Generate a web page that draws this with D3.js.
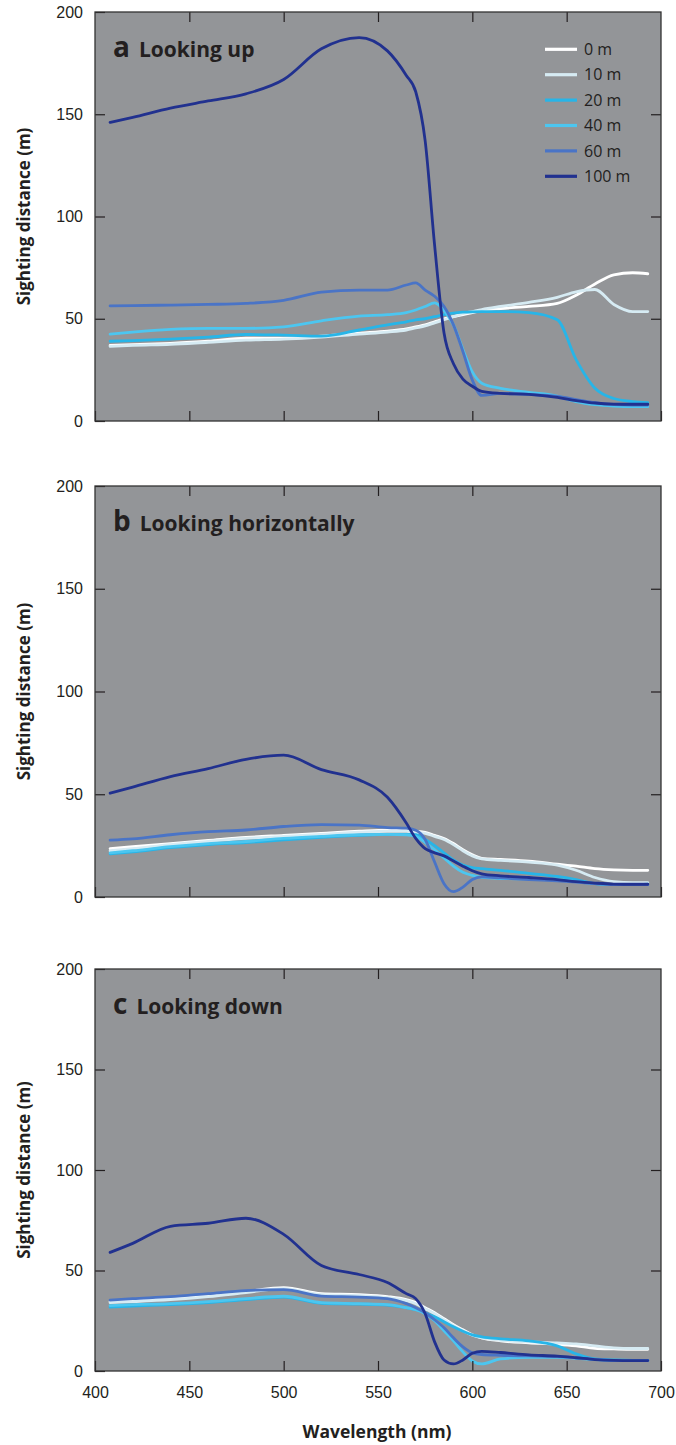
<!DOCTYPE html>
<html>
<head>
<meta charset="utf-8">
<script src="https://cdn.jsdelivr.net/npm/d3@7"></script>
<style>
  html, body { margin: 0; padding: 0; background: #fff; }
  svg { display: block; font-family: 'Open Sans', sans-serif; }
  .axis text { font-size: 16px; fill: #231f20; }
  .axis line { stroke: #231f20; stroke-width: 1.2; }
  .axis path { display: none; }
  .series { fill: none; stroke-width: 2.8; stroke-linejoin: round; stroke-linecap: round; }
</style>
</head>
<body>
<svg width="676" height="1445"></svg>
<script>
'use strict';

/* Wavelengths (nm) at which the curves were read. */
var wavelengths = [408, 420, 440, 460, 480, 500, 520, 540, 555, 565, 570, 575, 580, 585, 590, 595, 600, 605, 615, 630, 645, 655, 665, 675, 685, 693];

/* Depths, in legend order. */
var depths = ['0 m', '10 m', '20 m', '40 m', '60 m', '100 m'];
var colors = ['#ffffff', '#d6ebf3', '#27b5e8', '#4cc6f0', '#4a74c6', '#21318f'];

/* a: looking up. */
var up0 = [37, 37.3, 38, 39, 40.5, 40.5, 41.5, 43, 44, 45, 46, 47, 48.5, 50, 51, 52, 53, 54, 55, 56, 57.5, 61.5, 67, 71.5, 72.5, 72];
var up10 = [36.5, 37, 37.5, 38.5, 39.5, 40, 41, 42.5, 43.5, 44.5, 45.5, 46.5, 48, 49.5, 51, 52.5, 53.5, 54.5, 56, 58, 60.5, 63.2, 64.3, 57, 53.5, 53.5];
var up20 = [39, 39.3, 40, 41, 42.3, 42, 41.5, 44.5, 47, 48.5, 49.5, 50, 51, 52, 52.8, 53.2, 53.4, 53.5, 53.5, 53, 49.5, 30, 16, 11, 9.5, 9];
var up40 = [42.5, 43.5, 44.8, 45.3, 45.3, 46, 49, 51.3, 52, 53, 54.3, 56, 57.8, 54, 47, 35, 24, 18.5, 16, 14, 12.2, 9.5, 8, 7.3, 7, 7];
var up60 = [56.3, 56.4, 56.7, 57, 57.5, 59, 63, 64, 64, 66.5, 67.5, 64, 61, 56, 47, 34, 20, 12.5, 13.5, 13, 12, 10.5, 9, 8, 7.8, 7.8];
var up100 = [146, 148.5, 153, 156.5, 160, 167, 182, 187.5, 181, 169, 161, 137, 86, 43, 28, 20.5, 17, 14.5, 13.5, 13, 11.5, 10, 8.8, 8.3, 8.2, 8.2];

/* b: looking horizontally. */
var horizontal0 = [23.5, 24.5, 26, 27.5, 29, 30, 31, 32, 32.5, 32.3, 32, 31.5, 30, 28.5, 26, 23, 20.5, 18.8, 18.3, 17.5, 16, 15, 13.8, 13.2, 13, 13];
var horizontal10 = [22.5, 23.5, 25.5, 27, 28.5, 29.5, 30.5, 31.5, 32, 32, 31.5, 31, 29.5, 28, 25.5, 22.5, 20, 18.5, 17.8, 17, 15.5, 13, 9.5, 7.5, 7, 7];
var horizontal20 = [21, 22, 24, 25.5, 26.5, 27.8, 29, 30, 30.5, 30.5, 30.3, 28, 25, 21.5, 18, 15.5, 14.3, 13.8, 13, 11.5, 10, 8.5, 6.5, 6, 6, 6.3];
var horizontal40 = [21.5, 22.5, 24.5, 26, 27, 28.5, 29.5, 30.3, 30.5, 30.3, 29.5, 26.5, 23, 19, 15, 12, 10.5, 9.5, 9, 8.8, 8.5, 7.5, 6.5, 6, 6, 6];
var horizontal60 = [27.7, 28.3, 30.3, 31.8, 32.6, 34.3, 35.2, 35, 33.8, 33.5, 32.5, 28, 17, 6.5, 2.6, 4.8, 8.5, 9.8, 9.3, 8.5, 7.8, 7.2, 6.5, 6, 6, 6];
var horizontal100 = [50.5, 53.5, 58.6, 62.5, 67, 69, 62, 57, 48.5, 36, 28.5, 23.5, 21.5, 20, 17.5, 15, 12.8, 11.3, 10.3, 9.5, 8.5, 7.5, 6.8, 6.3, 6.2, 6.2];

/* c: looking down. */
var down0 = [34.5, 35, 36, 37.5, 39.5, 41.5, 38.5, 38, 37, 35.5, 34, 31.5, 29, 26, 23, 20.5, 18, 16.5, 15, 14, 13.3, 12.5, 11.3, 11, 10.8, 10.8];
var down10 = [34, 34.5, 35.5, 37, 39, 41, 38, 37.5, 36.5, 35, 33.5, 31, 28.5, 25.5, 22.5, 20, 17.8, 16.5, 15.3, 14.5, 14, 13.5, 12.5, 11.5, 11.2, 11.2];
var down20 = [31.8, 32.3, 33, 34, 35.5, 36.8, 33.7, 33.3, 32.8, 31.5, 30.5, 29, 27, 24.5, 22, 19.8, 18, 17, 16, 15, 12.5, 8.5, 6, 5.5, 5.3, 5.3];
var down40 = [32.5, 33, 33.5, 34.5, 36, 37.2, 34, 33.5, 33, 31.5, 30.5, 28.5, 25, 20, 15, 9.5, 5, 3.5, 6, 6.8, 6.8, 6.3, 5.7, 5.3, 5.2, 5.2];
var down60 = [35.3, 36, 37, 38.5, 40, 40.5, 37.3, 36.8, 36, 33.5, 31.5, 29, 25.5, 21.5, 16.5, 12, 9, 8.2, 7.8, 7.5, 7.2, 6.5, 5.8, 5.3, 5.2, 5.2];
var down100 = [59, 63.5, 72, 73.5, 76, 68, 52.5, 48, 44, 38.5, 36, 28.5, 14.5, 5.5, 3.5, 5.5, 8.8, 9.8, 9.2, 8, 7.4, 6.6, 5.7, 5.3, 5.2, 5.2];

/* Axis ticks. */
var xTicks = [400, 450, 500, 550, 600, 650, 700];
var yTicks = [0, 50, 100, 150, 200];

/* Panels. */
var panels = [
  {letter: 'a', title: 'Looking up', series: [up0, up10, up20, up40, up60, up100], top: 12, height: 409},
  {letter: 'b', title: 'Looking horizontally', series: [horizontal0, horizontal10, horizontal20, horizontal40, horizontal60, horizontal100], top: 486, height: 411},
  {letter: 'c', title: 'Looking down', series: [down0, down10, down20, down40, down60, down100], top: 969, height: 402}
];

var svg = d3.select('svg');
var left = 95;
var right = 661;

var x = d3.scaleLinear().domain([400, 700]).range([0, right - left]);

panels.forEach(drawPanel);

/* Shared x axis title. */
svg.append('text')
  .attr('x', 377)
  .attr('y', 1438)
  .attr('text-anchor', 'middle')
  .style('font-size', '17.5px')
  .style('font-weight', 700)
  .style('fill', '#231f20')
  .text('Wavelength (nm)');

function drawPanel(panel, index) {
  var width = right - left;
  var height = panel.height;
  var last = index === panels.length - 1;

  var y = d3.scaleLinear().domain([0, 200]).range([height, 0]);

  var group = svg.append('g')
    .attr('transform', 'translate(' + left + ',' + panel.top + ')');

  /* Grey plotting area. */
  group.append('rect')
    .attr('width', width)
    .attr('height', height)
    .attr('fill', '#939598');

  /* Curves, deepest on top. */
  var line = d3.line()
    .x(function (d, i) { return x(wavelengths[i]); })
    .y(function (d) { return y(d); })
    .curve(d3.curveMonotoneX);

  group.selectAll('.series')
    .data(panel.series)
    .enter()
    .append('path')
    .attr('class', 'series')
    .attr('stroke', function (d, i) { return colors[i]; })
    .attr('d', line);

  /* Axes with inward ticks. */
  group.append('g')
    .attr('class', 'axis')
    .call(d3.axisLeft(y).tickValues(yTicks).tickSizeInner(-10).tickSizeOuter(0).tickPadding(12));

  group.append('g')
    .attr('class', 'axis')
    .attr('transform', 'translate(' + width + ',0)')
    .call(d3.axisRight(y).tickValues([50, 100, 150]).tickSizeInner(-10).tickSizeOuter(0).tickFormat(''));

  group.append('g')
    .attr('class', 'axis')
    .call(d3.axisTop(x).tickValues([450, 500, 550, 600, 650]).tickSizeInner(-10).tickSizeOuter(0).tickFormat(''));

  var bottom = d3.axisBottom(x)
    .tickValues(xTicks)
    .tickSizeInner(-10)
    .tickSizeOuter(0)
    .tickPadding(16);
  if (!last) bottom.tickFormat('');

  group.append('g')
    .attr('class', 'axis')
    .attr('transform', 'translate(0,' + height + ')')
    .call(bottom);

  /* Frame. */
  group.append('rect')
    .attr('width', width)
    .attr('height', height)
    .attr('fill', 'none')
    .attr('stroke', '#333')
    .attr('stroke-width', 1.3);

  /* Panel title. */
  var title = group.append('text')
    .attr('x', 18)
    .attr('y', 45)
    .style('font-weight', 700)
    .style('fill', '#231f20');

  title.append('tspan')
    .style('font-size', '28px')
    .text(panel.letter);

  title.append('tspan')
    .attr('dx', 9)
    .style('font-size', '21px')
    .text(panel.title);

  /* y axis title. */
  svg.append('text')
    .attr('transform', 'translate(30,' + (panel.top + height / 2) + ') rotate(-90)')
    .attr('text-anchor', 'middle')
    .style('font-size', '17px')
    .style('font-weight', 700)
    .style('fill', '#231f20')
    .text('Sighting distance (m)');

  /* Legend only on the first panel. */
  if (index === 0) {
    var legend = group.selectAll('.legend')
      .data(depths)
      .enter()
      .append('g')
      .attr('class', 'legend')
      .attr('transform', function (d, i) { return 'translate(450,' + (37.3 + i * 25.4) + ')'; });

    legend.append('line')
      .attr('x1', 0)
      .attr('x2', 32)
      .attr('stroke', function (d, i) { return colors[i]; })
      .attr('stroke-width', 3.2);

    legend.append('text')
      .attr('x', 39)
      .attr('dy', '0.35em')
      .style('font-size', '16px')
      .style('fill', '#231f20')
      .text(function (d) { return d; });
  }
}
</script>
</body>
</html>
